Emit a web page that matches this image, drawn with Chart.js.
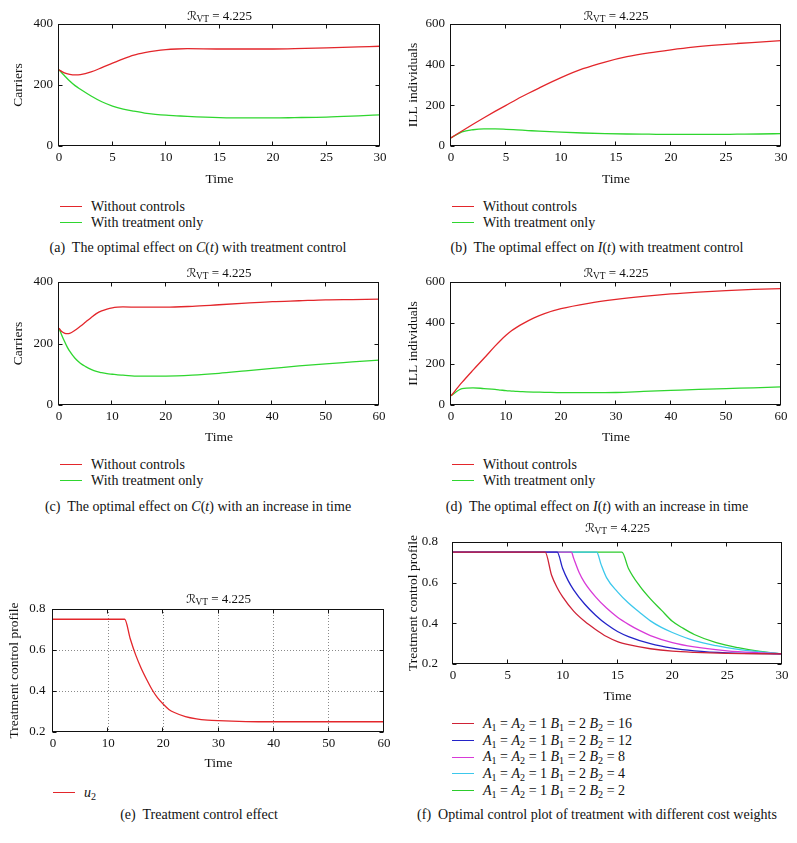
<!DOCTYPE html>
<html><head><meta charset="utf-8">
<script src="https://cdn.jsdelivr.net/npm/chart.js@4.4.1/dist/chart.umd.min.js"></script>
<style>
html,body{margin:0;padding:0;background:#fff;}
#page{position:relative;width:797px;height:843px;overflow:hidden;background:#fff;font-family:'Liberation Serif','Times New Roman',serif;color:#111;}
canvas{position:absolute;}
.t{position:absolute;white-space:nowrap;transform:translate(-50%,-50%);font-size:13px;line-height:1;}
.lg{position:absolute;white-space:nowrap;transform:translateY(-50%);font-size:14px;line-height:1;}
.sw{position:absolute;height:0;border-top:1.3px solid;}
.cap{position:absolute;white-space:nowrap;transform:translate(-50%,-50%);font-size:14px;line-height:1;}
.scr{font-family:'DejaVu Serif','DejaVu Sans',serif;font-style:italic;font-size:12px;}
sub{font-size:72%;vertical-align:-0.3em;line-height:0;}
</style></head><body><div id="page"></div>
<script>
// ---------------- data ----------------
// (a) carriers, t in [0,30]
const tA = [0, 0.5, 1, 1.5, 2, 3, 4, 5, 6, 7, 8, 9, 10, 11, 12, 15, 18, 20, 22, 25, 28, 30];
const carriersNoControlA = [250, 240, 235, 233, 234, 243, 257, 272, 286, 298, 306, 312, 316, 318, 319, 318, 318, 318, 319, 322, 325, 327];
const carriersTreatA = [250, 231, 213, 198, 186, 164, 145, 131, 121, 114, 108, 104, 101, 99, 97, 93, 92, 92, 93, 95, 99, 102];
// (b) ILL individuals, t in [0,30]
const tB = [0, 1, 2, 3, 4, 5, 6, 7, 8, 10, 12, 14, 16, 18, 20, 22, 24, 26, 28, 30];
const illNoControlB = [40, 74, 107, 139, 170, 200, 230, 258, 285, 336, 380, 413, 439, 458, 473, 486, 496, 504, 511, 518];
const illTreatB = [40, 69, 80, 84, 84, 82, 79, 76, 73, 68, 64, 61, 59, 58, 57, 57, 57, 58, 59, 61];
// (c) carriers, t in [0,60]
const tC = [0, 0.5, 1, 1.5, 2, 3, 4, 5, 6, 7, 8, 9, 10, 11, 12, 15, 20, 25, 30, 35, 40, 45, 50, 55, 60];
const carriersNoControlC = [250, 239, 234, 232, 233, 243, 256, 270, 284, 297, 306, 312, 316, 318, 319, 318, 318, 321, 326, 331, 336, 339, 342, 343, 344];
const carriersTreatC = [250, 228, 208, 190, 175, 152, 136, 125, 116, 109, 105, 102, 100, 98, 97, 94, 94, 97, 103, 111, 119, 127, 134, 140, 146];
// (d) ILL individuals, t in [0,60]
const tD = [0, 2, 4, 6, 8, 9, 10, 11, 12, 13, 15, 17, 20, 25, 30, 35, 40, 45, 50, 55, 60];
const illNoControlD = [45, 110, 170, 228, 287, 315, 340, 362, 380, 396, 424, 446, 470, 496, 515, 530, 542, 551, 558, 564, 568];
const illTreatD = [45, 80, 84, 80, 76, 73, 70, 68, 66, 65, 63, 62, 60, 60, 61, 66, 71, 76, 80, 84, 88];
// (e) u2 control profile, t in [0,60]
const tE = [0, 13, 14, 15, 16, 17, 18, 19, 20, 21, 22, 24, 26, 28, 30, 35, 40, 50, 60];
const u2E = [0.75, 0.75, 0.655, 0.575, 0.51, 0.455, 0.405, 0.365, 0.335, 0.31, 0.295, 0.275, 0.264, 0.258, 0.255, 0.251, 0.25, 0.25, 0.25];
// (f) control with different cost weights, t in [0,30]
const tF16 = [0, 8.4, 9, 9.5, 10, 11, 12, 13, 14, 15, 16, 18, 20, 22, 25, 30];
const uF16 = [0.75, 0.75, 0.635, 0.575, 0.53, 0.46, 0.41, 0.37, 0.335, 0.31, 0.295, 0.275, 0.263, 0.257, 0.252, 0.25];
const tF12 = [0, 9.5, 10, 10.5, 11, 12, 13, 14, 15, 16, 18, 20, 22, 25, 30];
const uF12 = [0.75, 0.75, 0.67, 0.61, 0.565, 0.495, 0.44, 0.395, 0.36, 0.335, 0.3, 0.278, 0.265, 0.255, 0.25];
const tF8 = [0, 10.8, 11, 11.5, 12, 13, 14, 15, 16, 17, 18, 20, 22, 25, 28, 30];
const uF8 = [0.75, 0.75, 0.72, 0.65, 0.6, 0.53, 0.475, 0.43, 0.395, 0.365, 0.34, 0.305, 0.284, 0.265, 0.255, 0.25];
const tF4 = [0, 13.1, 13.5, 14, 15, 16, 17, 18, 19, 20, 22, 24, 26, 28, 30];
const uF4 = [0.75, 0.75, 0.69, 0.625, 0.555, 0.5, 0.455, 0.412, 0.38, 0.355, 0.315, 0.29, 0.272, 0.26, 0.25];
const tF2 = [0, 15.4, 16, 17, 18, 19, 20, 21, 22, 24, 26, 28, 30];
const uF2 = [0.75, 0.75, 0.67, 0.585, 0.52, 0.465, 0.41, 0.375, 0.345, 0.305, 0.28, 0.262, 0.25];

// tick settings
const ticksC = [0, 200, 400];
const ticksI = [0, 200, 400, 600];
const ticksU = [0.2, 0.4, 0.6, 0.8];

// labels
const legendAB = ['Without controls', 'With treatment only'];
const legendE = ['<i>u</i><sub>2</sub>'];
const legendF = [
  '<i>A</i><sub>1</sub> = <i>A</i><sub>2</sub> = 1 <i>B</i><sub>1</sub> = 2 <i>B</i><sub>2</sub> = 16',
  '<i>A</i><sub>1</sub> = <i>A</i><sub>2</sub> = 1 <i>B</i><sub>1</sub> = 2 <i>B</i><sub>2</sub> = 12',
  '<i>A</i><sub>1</sub> = <i>A</i><sub>2</sub> = 1 <i>B</i><sub>1</sub> = 2 <i>B</i><sub>2</sub> = 8',
  '<i>A</i><sub>1</sub> = <i>A</i><sub>2</sub> = 1 <i>B</i><sub>1</sub> = 2 <i>B</i><sub>2</sub> = 4',
  '<i>A</i><sub>1</sub> = <i>A</i><sub>2</sub> = 1 <i>B</i><sub>1</sub> = 2 <i>B</i><sub>2</sub> = 2'
];
const captions = [
  '(a)&nbsp; The optimal effect on <i>C</i>(<i>t</i>) with treatment control',
  '(b)&nbsp; The optimal effect on <i>I</i>(<i>t</i>) with treatment control',
  '(c)&nbsp; The optimal effect on <i>C</i>(<i>t</i>) with an increase in time',
  '(d)&nbsp; The optimal effect on <i>I</i>(<i>t</i>) with an increase in time',
  '(e)&nbsp; Treatment control effect',
  '(f)&nbsp; Optimal control plot of treatment with different cost weights'
];
const plotTitle = '<span class="scr">ℛ</span><sub>VT</sub> = 4.225';

// ---------------- drawing ----------------
const FONT = "'Liberation Serif', 'Times New Roman', serif";
const RED = '#e3262b', GREEN = '#2fd62f';
const FRED = '#cf2236', FBLUE = '#2323c8', FMAG = '#d83ad8', FCYAN = '#3cc8ec', FGREEN = '#2ccc2c';
const page = document.getElementById('page');

const framePlugin = {
  id: 'frame',
  afterDraw(chart) {
    const {ctx, chartArea: a, scales: {x, y}} = chart;
    ctx.save();
    ctx.strokeStyle = '#111';
    ctx.lineWidth = 1;
    const L = Math.round(a.left) - 0.5, R = Math.round(a.right) - 0.5, T = Math.round(a.top) + 0.5, B = Math.round(a.bottom) - 0.5;
    ctx.strokeRect(L, T, R - L, B - T);
    ctx.beginPath();
    x.ticks.forEach(t => {
      const px = Math.round(x.getPixelForValue(t.value)) - 0.5;
      ctx.moveTo(px, B); ctx.lineTo(px, B - 4);
      ctx.moveTo(px, T); ctx.lineTo(px, T + 4);
    });
    y.ticks.forEach(t => {
      const py = Math.round(y.getPixelForValue(t.value)) + 0.5;
      ctx.moveTo(L, py); ctx.lineTo(L + 4, py);
      ctx.moveTo(R, py); ctx.lineTo(R - 4, py);
    });
    ctx.stroke();
    ctx.restore();
  }
};

function el(cls, html, x, y) {
  const d = document.createElement('div');
  d.className = cls; d.innerHTML = html;
  d.style.left = x + 'px'; d.style.top = y + 'px';
  page.appendChild(d);
  return d;
}

function makePanel(p) {
  const cv = document.createElement('canvas');
  cv.width = p.w; cv.height = p.h;
  cv.style.left = p.cx + 'px'; cv.style.top = p.cy + 'px';
  cv.style.width = p.w + 'px'; cv.style.height = p.h + 'px';
  page.appendChild(cv);
  const tickFont = {family: FONT, size: 13};
  const titleFont = {family: FONT, size: 13.5};
  const lh = 13.5 * 1.2;
  const near = (v, w) => Math.abs(v - w) < 1e-6;
  new Chart(cv, {
    type: 'line',
    data: {datasets: p.series.map(s => ({
      label: s.label,
      data: s.x.map((t, i) => ({x: t, y: s.y[i]})),
      borderColor: s.color, borderWidth: 1.3, pointRadius: 0, fill: false,
      cubicInterpolationMode: 'monotone'
    }))},
    options: {
      responsive: false, animation: false, devicePixelRatio: 1,
      layout: {padding: {left: 0, top: p.T - p.cy, right: p.cx + p.w - p.R, bottom: 0}},
      plugins: {legend: {display: false}, title: {display: false}, tooltip: {enabled: false}},
      scales: {
        x: {
          type: 'linear', min: 0, max: p.xMax,
          ticks: {stepSize: p.xStep, font: tickFont, color: '#111', padding: 4, autoSkip: false, maxRotation: 0},
          grid: {display: !!p.grid, drawTicks: false, lineWidth: 1,
                 color: c => (c.tick && (near(c.tick.value, 0) || near(c.tick.value, p.xMax))) ? 'rgba(0,0,0,0)' : '#8a8a8a'},
          border: {display: false, dash: [1, 2]},
          title: {display: true, text: 'Time', font: titleFont, color: '#111',
                  padding: {top: 0, bottom: p.cy + p.h - p.timeY - lh / 2}},
          afterFit: s => { s.height = p.cy + p.h - p.B; s.paddingLeft = 0; s.paddingRight = 0; }
        },
        y: {
          type: 'linear', min: p.yTicks[0], max: p.yTicks[p.yTicks.length - 1],
          afterBuildTicks: s => { s.ticks = p.yTicks.map(v => ({value: v})); },
          ticks: {font: tickFont, color: '#111', padding: p.yTickPad, autoSkip: false},
          grid: {display: !!p.grid, drawTicks: false, lineWidth: 1,
                 color: c => (c.tick && (near(c.tick.value, p.yTicks[0]) || near(c.tick.value, p.yTicks[p.yTicks.length - 1]))) ? 'rgba(0,0,0,0)' : '#8a8a8a'},
          border: {display: false, dash: [1, 2]},
          title: {display: true, text: p.yTitle, font: titleFont, color: '#111',
                  padding: {top: p.yTitleX - p.cx - lh / 2, bottom: 0}},
          afterFit: s => { s.width = p.L - p.cx; s.paddingTop = 0; s.paddingBottom = 0; }
        }
      }
    },
    plugins: [framePlugin]
  });
  // title
  el('t', plotTitle, (p.L + p.R) / 2, p.titleY);
  // legend
  p.legend.forEach((txt, i) => {
    const y = p.legY[i];
    const sw = document.createElement('div');
    sw.className = 'sw';
    sw.style.left = p.legX + 'px'; sw.style.top = (y - 0.6) + 'px';
    sw.style.width = '22px'; sw.style.borderTopColor = p.series[i].color;
    page.appendChild(sw);
    el('lg', txt, p.legX + 31, y);
  });
  el('cap', p.caption, p.capX, p.capY);
}

const panels = [
  {cx: 0, cy: 0, w: 400, h: 190, L: 59, R: 380, T: 24, B: 146, xMax: 30, xStep: 5, yTicks: ticksC,
   yTitle: 'Carriers', yTitleX: 18, yTickPad: 6, timeY: 179, titleY: 15,
   series: [{label: legendAB[0], x: tA, y: carriersNoControlA, color: RED}, {label: legendAB[1], x: tA, y: carriersTreatA, color: GREEN}],
   legend: legendAB, legX: 60, legY: [206.5, 222.5], caption: captions[0], capX: 198, capY: 248},
  {cx: 400, cy: 0, w: 397, h: 190, L: 451, R: 781, T: 24, B: 146, xMax: 30, xStep: 5, yTicks: ticksI,
   yTitle: 'ILL individuals', yTitleX: 413.5, yTickPad: 6, timeY: 179, titleY: 15,
   series: [{label: legendAB[0], x: tB, y: illNoControlB, color: RED}, {label: legendAB[1], x: tB, y: illTreatB, color: GREEN}],
   legend: legendAB, legX: 452, legY: [206.5, 222.5], caption: captions[1], capX: 597, capY: 248},
  {cx: 0, cy: 250, w: 400, h: 200, L: 59, R: 379, T: 282, B: 405, xMax: 60, xStep: 10, yTicks: ticksC,
   yTitle: 'Carriers', yTitleX: 18, yTickPad: 6, timeY: 437, titleY: 272,
   series: [{label: legendAB[0], x: tC, y: carriersNoControlC, color: RED}, {label: legendAB[1], x: tC, y: carriersTreatC, color: GREEN}],
   legend: legendAB, legX: 60, legY: [465, 481], caption: captions[2], capX: 198, capY: 507},
  {cx: 400, cy: 250, w: 397, h: 200, L: 451, R: 781, T: 282, B: 405, xMax: 60, xStep: 10, yTicks: ticksI,
   yTitle: 'ILL individuals', yTitleX: 413.5, yTickPad: 6, timeY: 437, titleY: 272,
   series: [{label: legendAB[0], x: tD, y: illNoControlD, color: RED}, {label: legendAB[1], x: tD, y: illTreatD, color: GREEN}],
   legend: legendAB, legX: 452, legY: [465, 481], caption: captions[3], capX: 597, capY: 507},
  {cx: 0, cy: 575, w: 400, h: 200, L: 53, R: 384, T: 609, B: 732, xMax: 60, xStep: 10, yTicks: ticksU, grid: true,
   yTitle: 'Treatment control profile', yTitleX: 14.5, yTickPad: 7.5, timeY: 763, titleY: 598,
   series: [{label: 'u2', x: tE, y: u2E, color: RED}],
   legend: legendE, legX: 53, legY: [793], caption: captions[4], capX: 199, capY: 815},
  {cx: 400, cy: 515, w: 397, h: 195, L: 453, R: 782, T: 542, B: 664, xMax: 30, xStep: 5, yTicks: ticksU,
   yTitle: 'Treatment control profile', yTitleX: 413, yTickPad: 15, timeY: 696, titleY: 527,
   series: [
     {label: 'B2=16', x: tF16, y: uF16, color: FRED},
     {label: 'B2=12', x: tF12, y: uF12, color: FBLUE},
     {label: 'B2=8', x: tF8, y: uF8, color: FMAG},
     {label: 'B2=4', x: tF4, y: uF4, color: FCYAN},
     {label: 'B2=2', x: tF2, y: uF2, color: FGREEN}],
   legend: legendF, legX: 452, legY: [724, 740.7, 757.3, 774, 790.5], caption: captions[5], capX: 597, capY: 815}
];

panels.forEach(makePanel);
</script>
</body></html>
